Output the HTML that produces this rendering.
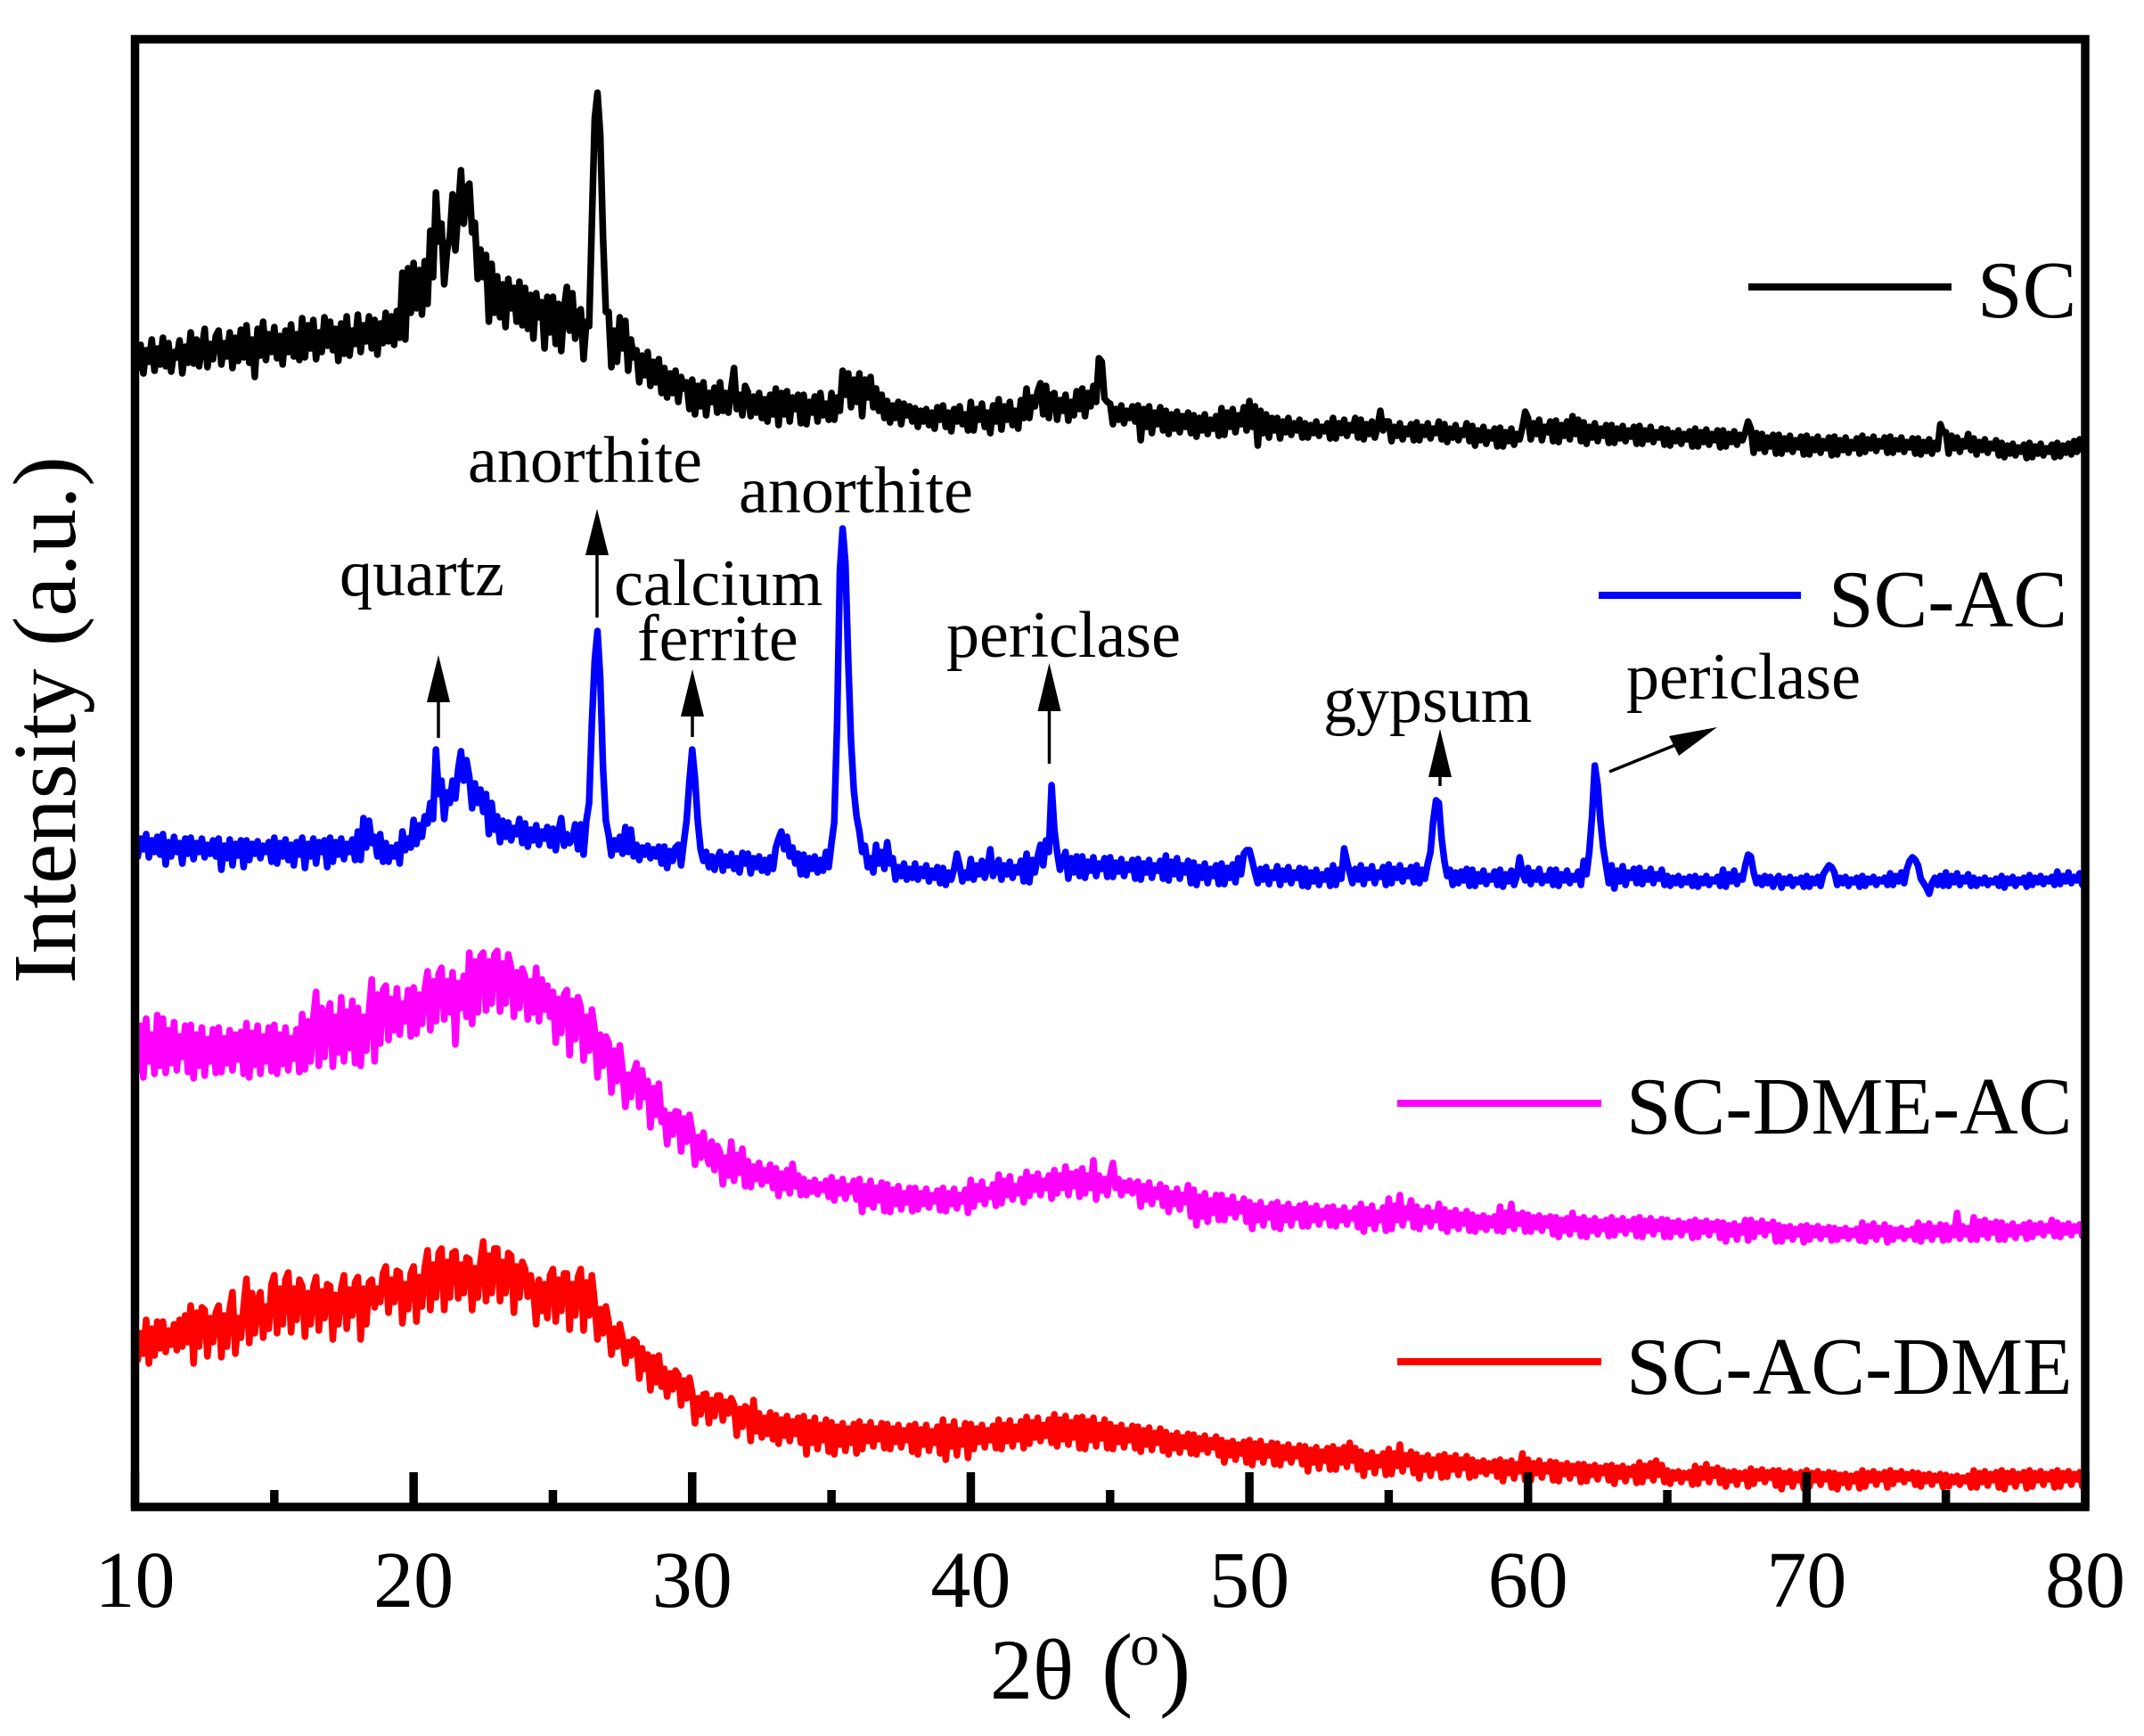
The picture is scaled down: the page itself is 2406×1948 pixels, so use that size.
<!DOCTYPE html>
<html lang="en">
<head>
<meta charset="utf-8">
<title>XRD patterns</title>
<style>
html,body{margin:0;padding:0;background:#fff;}
svg{display:block;}
text{font-family:"Liberation Serif","Noto Serif CJK SC",serif;fill:#000;}
</style>
</head>
<body>
<svg id="chart" xmlns="http://www.w3.org/2000/svg" width="2406" height="1948" viewBox="0 0 2406 1948">
  <rect x="0" y="0" width="2406" height="1948" fill="#fff"/>
  <g id="series-layer"></g>
  <g id="axis-layer"></g>

  <text y="1906" font-size="96"><tspan x="1111">2θ</tspan><tspan x="1236" font-size="106">(</tspan><tspan x="1268" y="1868" font-size="66">o</tspan><tspan x="1301" y="1906" font-size="106">)</tspan></text>
  <text transform="translate(84 808) rotate(-90)" text-anchor="middle" font-size="101">Intensity (a.u.)</text>

  <g>
    <rect x="1962" y="318" width="228" height="8" fill="#000"/>
    <text x="2219" y="356" font-size="91">SC</text>
    <rect x="1794" y="664" width="227" height="8" fill="#0000ff"/>
    <text x="2052" y="703" font-size="91">SC-AC</text>
    <rect x="1568" y="1234" width="229" height="8" fill="#ff00ff"/>
    <text x="1825" y="1272" font-size="91">SC-DME-AC</text>
    <rect x="1568" y="1524" width="229" height="8" fill="#ff0000"/>
    <text x="1825" y="1564" font-size="91">SC-AC-DME</text>
  </g>

  <g font-size="74">
    <text x="381" y="668">quartz</text>
    <text x="525" y="541">anorthite</text>
    <text x="689" y="679">calcium</text>
    <text x="715" y="741">ferrite</text>
    <text x="829" y="575">anorthite</text>
    <text x="1062" y="737">periclase</text>
    <text x="1485" y="810">gypsum</text>
    <text x="1825" y="784">periclase</text>

    <g>
      <line x1="492" y1="828" x2="492" y2="785" stroke="#000" stroke-width="3.5"/>
      <polygon points="492,735 479,788 505,788" fill="#000"/>
    </g>
    <g>
      <line x1="670" y1="693" x2="670" y2="620" stroke="#000" stroke-width="3.5"/>
      <polygon points="670,571 657,623 683,623" fill="#000"/>
    </g>
    <g>
      <line x1="777" y1="827" x2="777" y2="800" stroke="#000" stroke-width="3.5"/>
      <polygon points="777,751 764,804 790,804" fill="#000"/>
    </g>
    <g>
      <line x1="1177.5" y1="857" x2="1177.5" y2="795" stroke="#000" stroke-width="3.5"/>
      <polygon points="1177.5,744 1164.5,798 1190.5,798" fill="#000"/>
    </g>
    <g>
      <line x1="1616" y1="882" x2="1616" y2="868" stroke="#000" stroke-width="3.5"/>
      <polygon points="1616,818 1603,872 1629,872" fill="#000"/>
    </g>
    <g>
      <line x1="1806" y1="866" x2="1880" y2="836" stroke="#000" stroke-width="3.5"/>
      <polygon points="1927,816 1873,826 1884,848" fill="#000"/>
    </g>
  </g>
</svg>
<script>
const xStart = 10;
const xStep = 0.1;
const majorTicks = [10, 20, 30, 40, 50, 60, 70, 80];
const minorTicks = [15, 25, 35, 45, 55, 65, 75];
const seriesNames = ["sc", "sc-ac", "sc-dme-ac", "sc-ac-dme"];

const scValues = [
1316,1278,1304,1272,1298,1285,1310,1275,1300,1282,
1312,1280,1306,1274,1296,1290,1309,1272,1302,1284,
1318,1283,1310,1280,1300,1322,1279,1305,1288,1314,
1320,1282,1306,1291,1318,1278,1312,1286,1321,1290,
1326,1284,1310,1268,1322,1292,1330,1287,1316,1296,
1324,1289,1314,1282,1320,1296,1327,1291,1316,1287,
1334,1290,1326,1300,1332,1288,1318,1296,1335,1303,
1330,1298,1322,1286,1328,1294,1336,1292,1320,1305,
1338,1296,1326,1308,1336,1300,1332,1293,1328,1306,
1340,1308,1336,1304,1342,1312,1385,1310,1390,1340,
1396,1345,1388,1338,1398,1350,1432,1380,1475,1420,
1440,1372,1410,1425,1473,1410,1455,1500,1440,1480,
1485,1430,1441,1378,1411,1380,1405,1330,1395,1340,
1381,1335,1372,1324,1378,1345,1368,1330,1375,1326,
1368,1322,1360,1311,1362,1335,1352,1300,1358,1318,
1358,1305,1350,1297,1345,1369,1320,1362,1311,1340,
1344,1288,1330,1325,1441,1558,1587,1540,1425,1341,
1341,1279,1320,1285,1335,1300,1331,1275,1310,1290,
1298,1262,1292,1270,1296,1258,1285,1262,1288,1250,
1278,1245,1272,1250,1275,1240,1268,1255,1262,1232,
1265,1226,1258,1235,1262,1225,1250,1240,1256,1228,
1262,1230,1250,1228,1255,1278,1232,1248,1225,1258,
1251,1224,1246,1228,1250,1222,1243,1218,1248,1226,
1255,1214,1250,1226,1252,1218,1245,1232,1248,1216,
1248,1215,1240,1228,1246,1218,1250,1225,1238,1220,
1250,1220,1245,1230,1275,1248,1272,1234,1265,1240,
1272,1224,1265,1245,1268,1234,1255,1230,1248,1222,
1241,1217,1236,1222,1240,1215,1238,1225,1235,1218,
1233,1212,1230,1218,1232,1214,1228,1210,1234,1220,
1236,1212,1228,1207,1232,1218,1235,1215,1226,1208,
1240,1208,1232,1220,1238,1212,1228,1205,1236,1218,
1243,1209,1235,1220,1240,1214,1230,1210,1242,1222,
1255,1222,1245,1235,1252,1261,1226,1258,1222,1248,
1250,1220,1242,1230,1248,1219,1240,1225,1252,1232,
1255,1224,1250,1235,1258,1240,1289,1285,1244,1240,
1238,1215,1232,1220,1236,1216,1230,1222,1235,1218,
1236,1197,1232,1212,1235,1205,1228,1215,1234,1208,
1230,1204,1226,1210,1229,1206,1224,1212,1228,1205,
1225,1201,1222,1208,1226,1204,1220,1210,1224,1202,
1233,1203,1228,1212,1232,1206,1225,1215,1234,1208,
1241,1212,1235,1191,1230,1205,1226,1200,1222,1208,
1222,1199,1218,1206,1222,1203,1216,1208,1220,1200,
1216,1200,1214,1205,1218,1202,1212,1207,1216,1199,
1222,1199,1216,1205,1220,1202,1214,1208,1222,1200,
1220,1198,1215,1204,1218,1200,1212,1230,1208,1218,
1218,1196,1212,1202,1216,1198,1210,1204,1215,1197,
1217,1197,1212,1203,1216,1199,1210,1205,1218,1198,
1215,1195,1210,1200,1214,1197,1208,1203,1216,1196,
1213,1191,1208,1197,1212,1193,1206,1199,1210,1190,
1211,1190,1206,1196,1210,1192,1204,1198,1212,1229,
1222,1198,1216,1204,1220,1197,1212,1206,1218,1196,
1219,1195,1214,1202,1218,1198,1224,1204,1220,1196,
1217,1193,1212,1200,1216,1196,1210,1202,1214,1194,
1214,1194,1210,1199,1213,1196,1208,1201,1212,1193,
1213,1193,1208,1198,1212,1195,1206,1200,1210,1192,
1209,1191,1205,1196,1208,1193,1204,1198,1207,1190,
1210,1190,1206,1195,1209,1192,1204,1197,1208,1189,
1208,1190,1204,1195,1207,1192,1203,1197,1206,1218,
1210,1183,1205,1188,1204,1184,1200,1190,1203,1182,
1203,1182,1199,1187,1202,1184,1197,1189,1201,1181,
1202,1181,1198,1186,1201,1183,1196,1188,1200,1180,
1201,1181,1197,1186,1200,1183,1195,1188,1199,1182,
1202,1184,1198,1188,1201,1185,1196,1190,1200,1183,
1201,1183,1197,1187,1200,1184,1195,1189,1199,1182,
1199,1181,1195,1185,1198,1182,1194,1187,1215,1206,
1206,1182,1202,1188,1200,1184,1196,1190,1204,1186,
1199,1181,1195,1186,1198,1183,1193,1188,1197,1180,
1194,1178,1191,1182,1193,1180,1189,1184,1192,1177,
1194,1178,1190,1182,1193,1180,1188,1184,1192,1178,
1194,1179,1191,1183,1193,1181,1196,1184,1198,1186,
1200];

const scAcValues = [
758,730,750,738,755,729,748,735,752,732,
755,721,746,730,752,735,745,722,750,733,
751,727,745,735,750,729,743,733,748,730,
750,715,742,728,749,720,744,731,748,718,
748,726,744,733,747,728,742,735,746,724,
751,722,745,730,749,726,743,720,746,732,
751,717,744,730,750,722,746,735,748,718,
751,724,746,732,750,727,744,735,749,726,
758,726,773,740,770,745,752,730,755,724,
745,724,740,730,743,722,758,737,750,740,
771,744,765,752,775,767,790,772,850,800,
815,772,802,790,815,795,828,848,815,838,
819,784,812,790,805,780,800,755,790,760,
775,746,770,752,768,748,762,755,772,745,
767,741,760,748,765,743,758,750,763,742,
761,737,758,773,742,755,745,750,766,738,
766,732,770,790,880,950,983,930,830,770,
754,731,748,738,752,733,763,735,760,730,
743,726,740,732,742,728,738,730,741,722,
741,717,736,725,740,743,720,746,770,815,
850,818,770,738,725,735,718,730,715,728,
735,714,730,720,733,716,728,712,734,722,
733,711,728,718,730,714,726,712,729,716,
740,750,758,738,752,730,740,722,733,710,
732,709,728,716,730,712,726,714,735,718,
745,768,880,1050,1098,1060,950,860,805,775,
758,735,742,718,728,712,743,722,735,716,
746,722,728,704,718,708,722,704,716,706,
722,704,716,708,720,702,714,706,718,700,
717,698,712,704,716,733,720,702,712,706,
727,704,720,710,725,706,718,738,708,716,
726,704,720,710,724,706,718,712,725,702,
733,701,726,712,730,743,720,748,735,810,
760,735,715,725,735,705,728,712,730,708,
730,706,724,714,729,708,722,716,728,707,
729,707,723,713,727,708,721,715,726,705,
727,704,722,712,726,706,720,714,725,705,
731,703,724,710,728,705,720,712,725,700,
723,698,718,706,722,700,716,708,720,699,
722,699,717,706,721,701,728,710,733,737,
737,725,712,700,716,704,718,699,712,706,
719,698,714,704,718,700,712,706,717,697,
716,696,712,702,715,698,710,704,714,697,
720,698,715,705,739,725,712,700,716,704,
720,699,715,706,719,700,712,707,718,698,
721,700,716,706,720,702,714,708,718,701,
720,700,715,705,722,735,770,793,790,750,
725,708,715,698,712,700,713,703,716,697,
715,697,710,702,714,699,708,704,713,698,
715,696,710,702,714,698,708,729,712,703,
717,699,712,704,716,700,708,703,715,698,
715,697,710,703,714,700,708,704,713,698,
725,710,735,775,832,810,770,740,720,700,
720,694,714,702,719,698,712,706,716,700,
717,699,712,704,716,700,710,705,715,698,
708,697,706,700,708,698,705,701,707,697,
708,696,705,700,708,698,704,702,707,697,
715,696,710,702,714,699,708,704,720,732,
730,712,700,706,698,708,700,707,696,704,
708,695,705,700,707,697,704,701,706,696,
708,696,705,700,707,697,710,715,720,718,
712,698,706,700,707,697,704,701,706,696,
708,697,705,701,707,698,704,702,706,698,
711,698,708,702,712,700,716,725,729,726,
720,705,700,695,688,700,706,698,708,697,
712,697,708,701,711,698,706,702,710,697,
706,697,704,700,706,698,703,701,705,697,
708,695,705,700,707,697,704,701,706,696,
709,698,706,701,708,699,705,702,707,698,
713,699,708,702,712,700,707,703,711,698,
709];

const scDmeAcValues = [
556,490,540,482,548,500,530,486,552,495,
548,487,535,498,544,490,528,505,540,488,
541,481,530,495,538,484,525,500,536,487,
538,488,526,498,535,490,530,502,533,486,
543,482,532,496,540,486,528,500,538,489,
541,486,530,497,538,490,526,503,536,488,
553,491,545,500,548,578,495,560,505,552,
565,494,550,510,572,500,556,515,568,498,
560,495,550,512,556,592,500,575,520,580,
585,524,570,535,582,530,565,545,580,528,
583,531,575,542,580,601,535,590,545,598,
605,547,590,555,600,519,588,560,596,550,
622,542,612,555,618,622,557,612,565,620,
624,556,610,565,620,605,550,600,560,604,
595,547,590,555,605,545,592,558,585,550,
578,521,570,532,575,580,507,568,525,572,
561,501,550,512,558,535,482,530,495,528,
521,465,512,478,518,491,449,485,460,488,
498,449,490,460,478,426,470,440,475,432,
445,407,440,418,444,443,399,436,410,440,
421,384,415,392,420,398,385,410,378,405,
398,362,392,372,410,366,395,375,402,360,
388,359,382,368,386,362,378,366,384,358,
380,349,374,358,378,352,385,360,372,350,
368,350,364,354,367,351,362,356,366,348,
370,344,364,352,368,346,360,354,366,345,
368,331,360,340,366,336,358,344,364,332,
362,331,356,340,360,334,352,342,358,332,
358,334,352,340,357,336,350,343,355,333,
358,332,352,340,357,335,350,343,356,330,
367,337,360,345,365,340,356,348,362,338,
373,341,366,350,371,345,360,352,368,342,
376,349,370,356,374,350,366,358,372,346,
378,352,372,358,382,350,374,360,376,348,
380,352,372,358,389,345,372,355,368,350,
372,386,358,368,350,364,355,366,352,362,
365,337,360,345,364,340,356,348,362,338,
358,331,352,340,357,334,350,342,361,326,
356,316,348,326,352,320,344,330,350,322,
350,322,344,330,348,325,340,332,346,320,
342,312,338,322,342,316,335,325,340,314,
342,312,336,322,340,316,334,325,338,315,
340,315,335,322,338,317,332,325,336,316,
337,315,332,322,336,317,330,324,335,314,
340,309,334,318,338,312,330,322,336,310,
346,312,338,322,350,316,335,325,344,314,
337,312,332,320,336,315,330,322,340,313,
334,309,330,316,333,312,328,318,332,310,
328,309,325,314,327,311,324,316,326,310,
337,309,330,316,340,312,328,318,330,309,
328,309,325,314,327,310,324,316,326,306,
325,303,322,310,324,306,330,312,323,304,
325,303,321,310,324,306,320,312,322,304,
325,305,321,311,324,307,320,312,323,304,
325,303,321,310,324,306,320,312,323,303,
322,303,319,309,321,305,318,311,320,302,
322,303,319,309,321,305,318,311,320,302,
319,298,316,306,318,300,315,308,322,299,
322,303,318,309,321,305,317,311,320,298,
316,298,314,304,315,300,312,306,315,297,
316,300,313,305,315,301,312,306,314,299,
313,300,311,304,313,301,310,305,312,299,
319,298,315,304,318,300,313,306,317,297,
313,300,311,304,313,301,310,305,312,300,
319,298,315,304,318,300,313,306,317,299,
316,300,313,305,330,301,315,306,313,300,
325,300,320,306,322,302,318,308,320,300,
319,300,315,306,318,302,314,308,317,301,
319,303,316,308,318,305,315,310,322,304,
319,303,316,308,318,305,315,310,317,304,
319];

const scAcDmeValues = [
203,165,195,172,210,161,200,170,208,178,
208,174,198,182,205,176,210,180,215,185,
226,161,218,180,224,221,169,212,185,218,
226,168,215,180,222,241,172,212,190,225,
256,184,240,195,232,241,190,225,200,250,
260,195,245,205,255,263,196,245,210,255,
248,191,240,205,246,258,198,242,212,250,
248,188,238,205,245,260,200,244,215,252,
258,188,245,205,252,255,224,245,230,262,
270,218,255,230,265,263,206,250,222,262,
270,208,258,225,268,288,221,272,235,285,
290,221,275,235,285,287,234,272,240,280,
278,221,268,235,275,298,231,282,240,290,
290,231,275,240,285,282,218,270,235,275,
267,236,260,242,205,255,220,250,212,260,
267,208,255,220,262,262,199,250,215,258,
267,198,252,215,260,228,188,222,195,225,
208,171,200,180,205,190,161,185,170,188,
185,144,178,155,171,131,168,140,170,135,
155,124,150,132,153,148,114,142,122,145,
128,94,122,104,126,127,94,120,102,125,
125,97,118,105,122,115,80,110,90,113,
110,74,120,85,105,78,100,82,106,76,
103,71,98,80,102,74,96,82,100,72,
102,59,95,72,100,65,92,75,98,62,
95,59,90,70,94,63,88,72,93,60,
96,65,90,74,95,68,88,76,94,66,
93,65,88,73,92,67,86,75,91,62,
93,59,87,70,92,63,85,72,90,60,
98,53,90,68,96,58,86,70,94,55,
93,65,88,73,92,67,86,75,91,66,
98,65,92,74,97,68,90,76,96,66,
101,71,95,78,100,74,92,80,98,72,
104,68,98,76,102,70,95,78,100,66,
101,65,96,75,100,68,92,77,98,66,
93,65,89,73,92,67,86,75,91,66,
90,62,86,70,89,64,83,72,88,63,
84,59,80,66,83,61,78,68,82,60,
81,59,77,65,80,61,75,67,79,58,
75,50,72,58,74,53,70,60,73,50,
75,47,71,56,74,50,68,58,72,48,
71,47,67,55,70,50,65,57,69,48,
68,40,64,50,67,43,62,52,66,42,
68,42,64,50,67,45,72,52,66,42,
62,35,58,45,61,38,56,47,60,36,
65,37,60,46,70,40,58,48,62,38,
59,32,55,42,58,35,53,44,57,33,
59,34,55,42,58,36,53,44,57,33,
53,35,50,40,52,37,49,41,51,34,
53,29,50,38,52,32,48,40,60,30,
53,30,49,38,52,33,47,40,51,30,
50,29,47,37,49,32,46,38,48,28,
48,29,45,36,47,31,44,38,46,30,
47,26,44,34,46,29,43,36,45,27,
50,28,46,35,49,30,52,36,47,28,
41,26,39,32,40,28,38,33,39,25,
46,26,43,33,48,28,42,35,44,27,
41,23,39,30,40,25,38,32,39,23,
43,26,40,32,42,28,39,33,41,24,
41,20,38,28,40,23,37,30,39,21,
41,23,38,30,40,25,37,31,39,22,
38,20,36,27,37,22,35,29,37,21,
41,23,38,30,40,25,37,31,39,22,
41,26,38,31,40,28,37,32,39,25,
38,23,36,29,37,25,35,30,37,22,
36,23,34,28,35,25,33,29,35,22,
41,22,38,28,40,24,37,30,39,22,
41,20,38,28,40,23,37,30,39,21,
41,23,38,30,40,25,37,31,39,22,
41,23,38,30,40,25,37,31,39,23,
38];

const SVG_NS = "http://www.w3.org/2000/svg";
const plot = { left: 151.5, right: 2340, top: 44, bottom: 1691 };
const xDomain = [10, 80];
const yDomain = [0, 1647];

function xScale(v) {
  return plot.left + (v - xDomain[0]) / (xDomain[1] - xDomain[0]) * (plot.right - plot.left);
}
function yScale(v) {
  return plot.bottom - (v - yDomain[0]) / (yDomain[1] - yDomain[0]) * (plot.bottom - plot.top);
}

const seriesLayer = document.getElementById("series-layer");
const axisLayer = document.getElementById("axis-layer");

function drawSeries(values, color, name) {
  const pts = values.map(function (v, i) {
    return xScale(xStart + i * xStep).toFixed(1) + "," + yScale(v).toFixed(1);
  }).join(" ");
  const line = document.createElementNS(SVG_NS, "polyline");
  
  
  line.setAttribute("points", pts);
  line.setAttribute("fill", "none");
  line.setAttribute("stroke", color);
  line.setAttribute("stroke-width", "7.5");
  line.setAttribute("stroke-linejoin", "round");
  line.setAttribute("stroke-linecap", "round");
  seriesLayer.appendChild(line);
}

drawSeries(scValues, "#000000", seriesNames[0]);
drawSeries(scAcValues, "#0000ff", seriesNames[1]);
drawSeries(scDmeAcValues, "#ff00ff", seriesNames[2]);
drawSeries(scAcDmeValues, "#ff0000", seriesNames[3]);

function drawTick(v, length, kind) {
  const t = document.createElementNS(SVG_NS, "line");
  
  
  t.setAttribute("x1", xScale(v));
  t.setAttribute("x2", xScale(v));
  t.setAttribute("y1", plot.bottom);
  t.setAttribute("y2", plot.bottom - length);
  t.setAttribute("stroke", "#000");
  t.setAttribute("stroke-width", "9.5");
  axisLayer.appendChild(t);
}

majorTicks.forEach(function (v) {
  drawTick(v, 39, "major");
  const label = document.createElementNS(SVG_NS, "text");
  
  
  label.setAttribute("x", xScale(v));
  label.setAttribute("y", 1803);
  label.setAttribute("text-anchor", "middle");
  label.setAttribute("font-size", "90");
  label.textContent = String(v);
  axisLayer.appendChild(label);
});
minorTicks.forEach(function (v) {
  drawTick(v, 19, "minor");
});

const frame = document.createElementNS(SVG_NS, "rect");


frame.setAttribute("x", plot.left);
frame.setAttribute("y", plot.top);
frame.setAttribute("width", plot.right - plot.left);
frame.setAttribute("height", plot.bottom - plot.top);
frame.setAttribute("fill", "none");
frame.setAttribute("stroke", "#000");
frame.setAttribute("stroke-width", "9.5");
axisLayer.appendChild(frame);
</script>
</body>
</html>
